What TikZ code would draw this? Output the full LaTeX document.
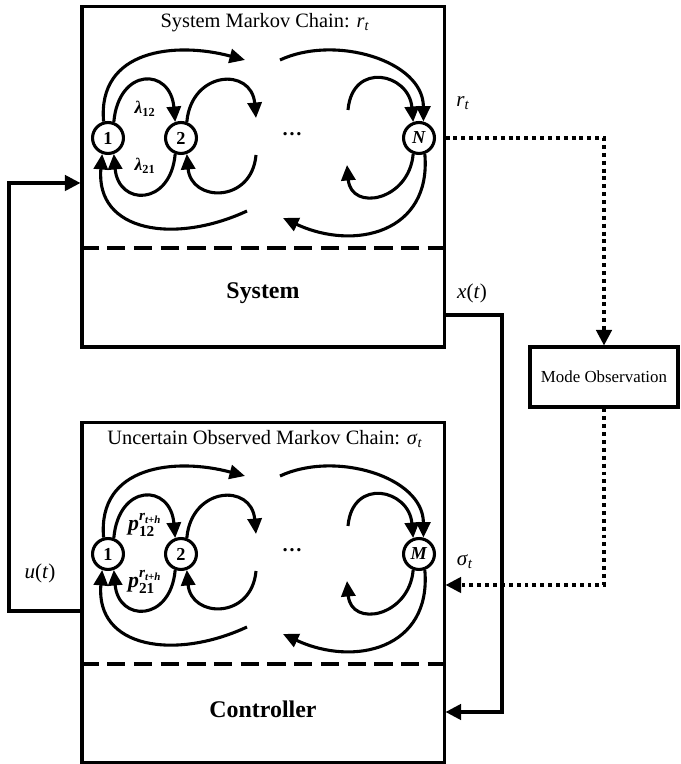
\documentclass[tikz,border=0pt]{standalone}
\usepackage{amsmath}
\usepackage{fontspec}
\setmainfont{Liberation Serif}
\usetikzlibrary{arrows.meta}
\newcommand{\bfi}[1]{\textbf{\textit{#1}}}
\tikzset{
  box/.style = {draw, line width = 2.2pt, minimum width = 9.05cm, minimum height = 8.5cm, inner sep = 0pt},
  modebox/.style = {draw, line width = 2.2pt, minimum width = 3.7cm, minimum height = 1.5cm, font = \fontsize{12}{12}\selectfont},
  state/.style = {draw, circle, line width = 2.2pt, minimum size = 22pt, inner sep = 0pt, font = \fontsize{13}{13}\selectfont\bfseries},
  ttl/.style = {font = \fontsize{14.5}{16}\selectfont},
  lbl/.style = {font = \fontsize{17}{19}\selectfont\bfseries},
  rate/.style = {font = \fontsize{12.5}{13}\selectfont, inner sep = 1pt},
  sigl/.style = {font = \fontsize{15}{16}\selectfont},
  arc/.style = {line width = 2.2pt, -{Triangle[length = 11pt, width = 10pt]}},
  sig/.style = {line width = 2.2pt, -{Triangle[length = 11pt, width = 11pt]}},
  obs/.style = {line width = 2.2pt, dash pattern = on 2.8pt off 2.8pt, -{Triangle[length = 11pt, width = 11pt]}},
  divide/.style = {line width = 2.2pt, dash pattern = on 13pt off 6pt}
}
\begin{document}
\begin{tikzpicture}[x = 0.025cm, y = 0.025cm]
    \useasboundingbox (0, 0) rectangle (681, 764);
    % the two chains: system (top) and controller (bottom)
    \foreach \pre/\dy/\last/\ttl/\nm/\la/\lb in {
        s/0/{\bfi{N}}/{System Markov Chain: \textit{r}\textsubscript{\textit{t}}}/System/{\bfi{λ}\textsubscript{\textbf{12}}}/{\bfi{λ}\textsubscript{\textbf{21}}},
        c/-416/{\bfi{M}}/{Uncertain Observed Markov Chain: \textit{σ}\textsubscript{\textit{t}}}/Controller/{\fontsize{15.5}{16}\selectfont$\bfi{p}^{\bfi{r}_{\bfi{t+h}}}_{\textbf{12}}$}/{\fontsize{15.5}{16}\selectfont$\bfi{p}^{\bfi{r}_{\bfi{t+h}}}_{\textbf{21}}$}}{
        \begin{scope}[shift = {(0, \dy)}]
            \node[box] (\pre box) at (263, 587) {};
            \node[ttl] (\pre ttl) at (265, 741) {\ttl};
            \node[lbl] (\pre lab) at (263, 471) {\nm};
            \draw[divide] (\pre box.west |- 0, 516) -- (\pre box.east |- 0, 516);
            \node[state] (\pre1) at (108, 626) {1};
            \node[state] (\pre2) at (181, 626) {2};
            \node[state] (\pre L) at (419, 626) {\last};
            \node[ttl] (\pre dots) at (292, 630) {\textbf{\dots}};
            \node[rate] (\pre la) at (145, 655) {\la};
            \node[rate] (\pre lb) at (145, 598) {\lb};
            % free ends of the arcs near the dots
            \coordinate (\pre a) at (245, 704);
            \coordinate (\pre b) at (280, 704);
            \coordinate (\pre c) at (256, 646);
            \coordinate (\pre d) at (348, 654);
            \coordinate (\pre e) at (256, 609);
            \coordinate (\pre f) at (247, 553);
            \coordinate (\pre g) at (283, 546);
            \coordinate (\pre h) at (347, 599);
            % upper arcs
            \draw[arc] (\pre1.105) to[out = 95, in = 165, looseness = 1.2] (\pre a);
            \draw[arc] (\pre b) to[out = 25, in = 90, looseness = 1] (\pre L.75);
            \draw[arc] (\pre1.70) to[out = 85, in = 95, looseness = 2.3] (\pre2.110);
            \draw[arc] (\pre2.70) to[out = 85, in = 95, looseness = 1.9] (\pre c);
            \draw[arc] (\pre d) to[out = 85, in = 95, looseness = 1.9] (\pre L.110);
            % lower arcs
            \draw[arc] (\pre2.250) to[out = -95, in = -85, looseness = 2.2] (\pre1.290);
            \draw[arc] (\pre e) to[out = -95, in = -85, looseness = 1.8] (\pre2.290);
            \draw[arc] (\pre f) to[out = -155, in = -95, looseness = 1.3] (\pre1.250);
            \draw[arc] (\pre L.290) to[out = -85, in = -25, looseness = 1.3] (\pre g);
            \draw[arc] (\pre L.250) to[out = -95, in = -85, looseness = 1.8] (\pre h);
        \end{scope}
    }
    \node[modebox] (mode) at (604, 387) {Mode Observation};
    % u(t)
    \coordinate (ul) at (9, 153);
    \coordinate (uh) at (9, 581);
    \draw[sig] (cbox.west |- ul) -- (ul) -- (uh) -- (sbox.west |- uh);
    \node[sigl] (ulab) at (40, 191) {\textit{u}(\textit{t})};
    % x(t)
    \coordinate (xa) at (502, 449);
    \coordinate (xb) at (502, 52);
    \draw[sig] (sbox.east |- xa) -- (xa) -- (xb) -- (cbox.east |- xb);
    \node[sigl] (xlab) at (472, 471) {\textit{x}(\textit{t})};
    % mode observation
    \draw[obs] (sbox.east |- sL) -| (mode.north);
    \node[sigl] (rlab) at (463, 661) {\textit{r}\textsubscript{\textit{t}}};
    \coordinate (sg) at (604, 179);
    \draw[obs] (mode.south) -- (sg) -- (cbox.east |- sg);
    \node[sigl] (slab) at (465, 202) {\textit{σ}\textsubscript{\textit{t}}};
\end{tikzpicture}
\end{document}
